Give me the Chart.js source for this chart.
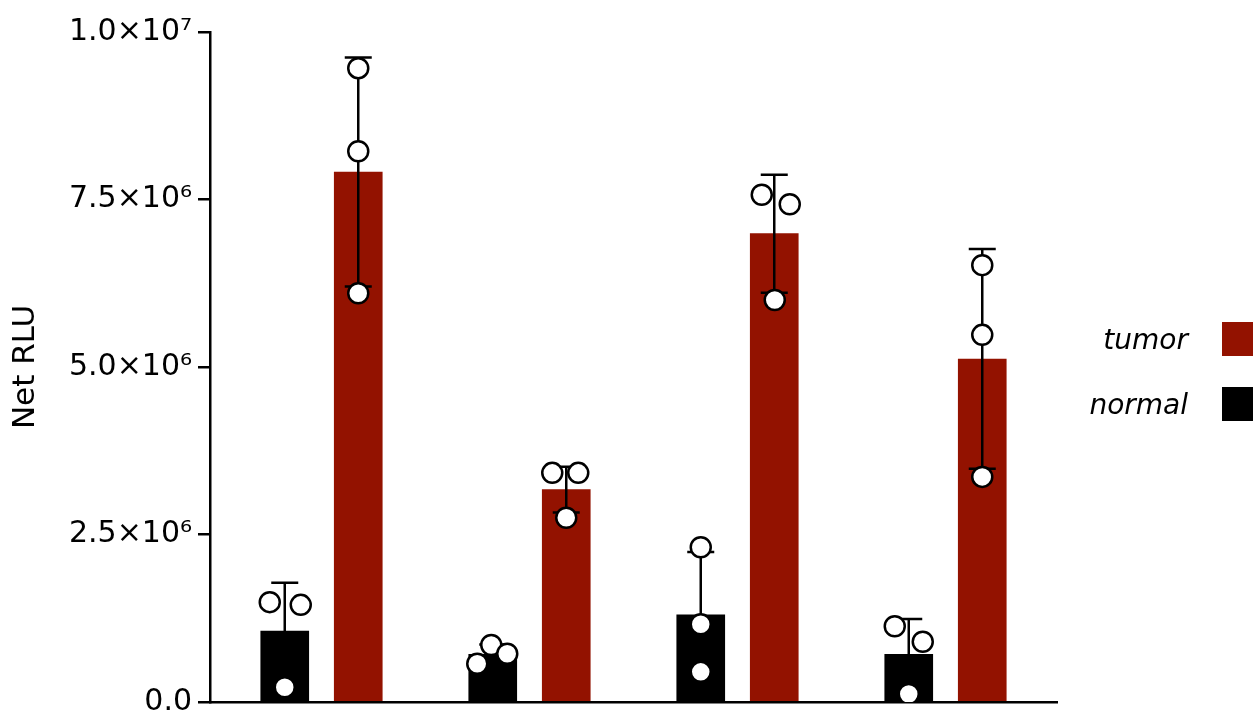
<!DOCTYPE html>
<html>
<head>
<meta charset="utf-8">
<script src="https://cdn.jsdelivr.net/npm/chart.js@4"></script>
<style>
    body { margin: 0; background: #fff; }
    #wrap { position: relative; width: 1253px; height: 717px; overflow: hidden; }
    .legend_row {
        position: absolute; right: -2px; display: flex; align-items: center; gap: 34px;
        font: italic 28px "DejaVu Sans"; color: #000;
    }
    .legend_box { width: 33px; height: 34px; }
</style>
</head>
<body>
<div id="wrap">
    <canvas id="chart" width="1253" height="717"></canvas>
    <div class="legend_row" style="top: 322px"><span>tumor</span><span class="legend_box" style="background: #931200"></span></div>
    <div class="legend_row" style="top: 387px"><span>normal</span><span class="legend_box" style="background: #000"></span></div>
</div>
<script>
// Bar heights (mean) and SD, one entry per group
const normal_mean = [1.06e6, 0.71e6, 1.30e6, 0.71e6]
const normal_sd   = [0.72e6, 0.15e6, 0.94e6, 0.53e6]
const tumor_mean  = [7.91e6, 3.17e6, 6.99e6, 5.12e6]
const tumor_sd    = [1.71e6, 0.34e6, 0.88e6, 1.64e6]

// Individual replicates
const normal_points = [
    [1.49e6, 1.45e6, 0.22e6],
    [0.57e6, 0.85e6, 0.72e6],
    [2.31e6, 1.16e6, 0.45e6],
    [1.13e6, 0.90e6, 0.12e6],
]
const tumor_points = [
    [9.46e6, 8.22e6, 6.10e6],
    [3.42e6, 3.42e6, 2.75e6],
    [7.57e6, 7.43e6, 6.00e6],
    [6.52e6, 5.48e6, 3.36e6],
]

const y_tick_values = [0, 2.5e6, 5e6, 7.5e6, 1e7]
const y_tick_labels = ["0.0", "2.5×10⁶", "5.0×10⁶", "7.5×10⁶", "1.0×10⁷"]

// Layout: horizontal spread of the replicate dots, in pixels (one group = 208px)
const group_px = 208
const bar_offset = 36.75 / group_px
const normal_jitter_px = [[-15, 16, 0], [-15.5, -1.5, 14.5], [0, 0, 0], [-14, 14, 0]]
const tumor_jitter_px = [[0, 0, 0], [-14, 12, 0], [-12.5, 15.5, 0.5], [0, 0, 0]]

const red = "#931200"
const font_family = "DejaVu Sans"
const line_width = 2.5

function bar_data(means, side)
{
    return means.map((v, i) => ({ x: i + side * bar_offset, y: v }))
}

function point_data(points, jitter, side)
{
    const out = []
    points.forEach((group, i) => {
        group.forEach((v, j) => {
            out.push({ x: i + side * bar_offset + jitter[i][j] / group_px, y: v })
        })
    })
    return out
}

// Draws mean +/- SD whiskers on top of each bar dataset, before the dots
const error_bars = {
    id: "error_bars",
    afterDatasetDraw(chart, args)
    {
        const meta = args.meta
        if (meta.type !== "bar") return
        const sd = chart.data.datasets[args.index].sd
        const y_scale = chart.scales.y
        const ctx = chart.ctx
        const cap = 13.5
        ctx.save()
        ctx.strokeStyle = "#000"
        ctx.lineWidth = line_width
        meta.data.forEach((bar, i) => {
            const mean = chart.data.datasets[args.index].data[i].y
            const top = y_scale.getPixelForValue(mean + sd[i])
            const bottom = y_scale.getPixelForValue(mean - sd[i])
            ctx.beginPath()
            ctx.moveTo(bar.x, top)
            ctx.lineTo(bar.x, bottom)
            ctx.moveTo(bar.x - cap, top)
            ctx.lineTo(bar.x + cap, top)
            ctx.moveTo(bar.x - cap, bottom)
            ctx.lineTo(bar.x + cap, bottom)
            ctx.stroke()
        })
        ctx.restore()
    }
}

const point_style = {
    type: "scatter",
    pointRadius: 10,
    pointBorderWidth: 2.5,
    pointBackgroundColor: "#fff",
    pointBorderColor: "#000",
    order: 1,
}

new Chart(document.getElementById("chart"), {
    type: "bar",
    data: {
        datasets: [
            {
                label: "normal",
                data: bar_data(normal_mean, -1),
                sd: normal_sd,
                backgroundColor: "#000",
                order: 2,
            },
            {
                label: "tumor",
                data: bar_data(tumor_mean, 1),
                sd: tumor_sd,
                backgroundColor: red,
                order: 2,
            },
            { ...point_style, label: "normal points", data: point_data(normal_points, normal_jitter_px, -1) },
            { ...point_style, label: "tumor points", data: point_data(tumor_points, tumor_jitter_px, 1) },
        ]
    },
    options: {
        responsive: false,
        devicePixelRatio: 1,
        animation: false,
        grouped: false,
        barThickness: 48,
        layout: { padding: { left: 0, top: 32, right: 196, bottom: 15 } },
        plugins: {
            legend: { display: false },
            tooltip: { enabled: false },
        },
        scales: {
            x: {
                type: "linear",
                offset: false,
                min: -111.5 / group_px,
                max: (1057 - 321.5) / group_px,
                ticks: { display: false },
                grid: { display: false, drawTicks: false },
                border: { display: true, color: "#000", width: line_width },
            },
            y: {
                min: 0,
                max: 1e7,
                afterBuildTicks: scale => { scale.ticks = y_tick_values.map(v => ({ value: v })) },
                afterFit: scale => { scale.width = 210 },
                ticks: {
                    color: "#000",
                    padding: 6,
                    font: { family: font_family, size: 30, lineHeight: 0.6 },
                    callback: (value, index) => y_tick_labels[index],
                },
                grid: {
                    drawOnChartArea: false,
                    drawTicks: true,
                    tickLength: 12,
                    color: "#000",
                    lineWidth: line_width,
                },
                border: { display: true, color: "#000", width: line_width },
                title: {
                    display: true,
                    text: "Net RLU",
                    color: "#000",
                    font: { family: font_family, size: 31 },
                    padding: { top: 7, bottom: 0 },
                },
            }
        }
    },
    plugins: [error_bars],
})
</script>
</body>
</html>
